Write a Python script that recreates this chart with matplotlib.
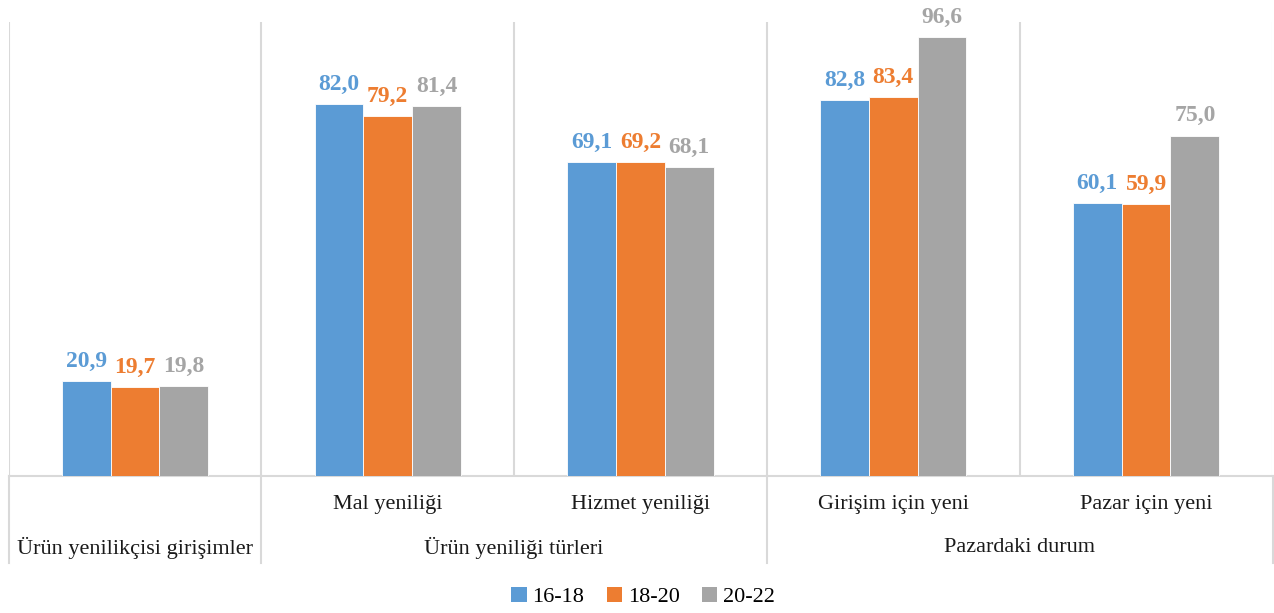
import matplotlib
matplotlib.use("Agg")
import matplotlib.pyplot as plt
from matplotlib.patches import Patch
import numpy as np

categories = ["", "Mal yeniliği", "Hizmet yeniliği", "Girişim için yeni", "Pazar için yeni"]
groups = ["Ürün yenilikçisi girişimler", "Ürün yeniliği türleri", "Pazardaki durum"]
group_spans = [(0, 0), (1, 2), (3, 4)]
series_names = ["16-18", "18-20", "20-22"]
s1618 = [20.9, 82.0, 69.1, 82.8, 60.1]
s1820 = [19.7, 79.2, 69.2, 83.4, 59.9]
s2022 = [19.8, 81.4, 68.1, 96.6, 75.0]
colors = ["#5B9BD5", "#ED7D31", "#A5A5A5"]

FONT = ["Liberation Serif", "DejaVu Serif"]
plt.rcParams['font.family'] = FONT

W, H = 1274, 613
fig = plt.figure(figsize=(W / 100, H / 100), dpi=100)
left, right, top, bottom = 8.5, 1272.5, 22, 476
ax = fig.add_axes([left / W, 1 - bottom / H, (right - left) / W, (bottom - top) / H])

x = np.arange(len(categories))
bw = 0.193
grid_c = "#D9D9D9"
for i, (vals, c) in enumerate(zip([s1618, s1820, s2022], colors)):
    pos = x + (i - 1) * bw
    ax.bar(pos, vals, width=bw, color=c, edgecolor="white", linewidth=0.6, zorder=3)
    for px, v in zip(pos, vals):
        ax.text(px, v + 2.0, f"{v:.1f}".replace(".", ","), ha="center", va="bottom",
                color=c, fontsize=17, fontweight="bold", zorder=4)

ax.set_xlim(-0.5, len(categories) - 0.5)
ax.set_ylim(0, 100)
for s in ["top", "left", "right"]:
    ax.spines[s].set_visible(False)
ax.spines["bottom"].set_color(grid_c)
ax.spines["bottom"].set_linewidth(1.5)
ax.set_yticks([])
ax.set_xticks([])

# vertical separators in plot
for b in np.arange(-0.5, len(categories), 1.0):
    ax.axvline(b, color=grid_c, linewidth=1.5, zorder=1)

# separators below axis (group boundaries)
trans = ax.get_xaxis_transform()
y_low = -(563 - 476) / (bottom - top)
bounds = sorted(set([g[0] - 0.5 for g in group_spans] + [g[1] + 0.5 for g in group_spans]))
for b in bounds:
    ax.plot([b, b], [0, y_low], transform=trans, color=grid_c, linewidth=1.5, clip_on=False)

# level-1 labels
y1 = -(505 - 476) / (bottom - top)
for xi, lab in zip(x, categories):
    if lab:
        ax.text(xi, y1, lab, transform=trans, ha="center", va="center", fontsize=16, color="#1a1a1a")
# group labels
y2 = -(548 - 476) / (bottom - top)
for g, (a, b) in zip(groups, group_spans):
    ax.text((a + b) / 2, y2, g, transform=trans, ha="center", va="center", fontsize=16, color="#1a1a1a")

handles = [Patch(facecolor=c, edgecolor="none") for c in colors]
fig.legend(handles, series_names, loc="center", bbox_to_anchor=(643 / W, 1 - 597 / H), ncol=3,
           frameon=False, fontsize=16, handlelength=0.7, handleheight=0.7,
           handletextpad=0.25, columnspacing=1.0)

fig.savefig("out.png", dpi=100, facecolor="white")
